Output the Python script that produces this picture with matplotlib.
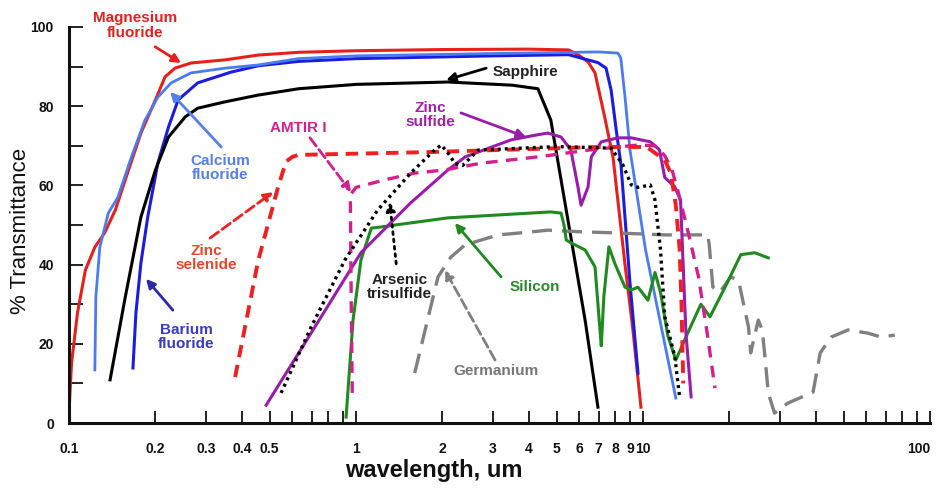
import matplotlib
matplotlib.use("Agg")
import matplotlib.pyplot as plt
from matplotlib.ticker import FixedLocator, NullFormatter

plt.rcParams['font.family'] = ['Liberation Sans', 'DejaVu Sans']
plt.rcParams['font.weight'] = 'bold'

# wavelength (um) / transmittance (%)
mgf2_wl = [0.1, 0.102, 0.107, 0.114, 0.123, 0.133, 0.145, 0.157, 0.178, 0.2, 0.216, 0.234,
           0.266, 0.35, 0.456, 0.63, 1.0, 2.0, 4.0, 5.5, 5.93, 6.43, 6.8, 7.36, 7.86, 8.65, 9.2, 9.83]
mgf2_t = [3, 15, 27.8, 38.6, 44.4, 48, 53.8, 61.4, 73.2, 81.6, 87.4, 89.6,
          90.9, 91.7, 92.9, 93.6, 94, 94.3, 94.4, 94.2, 93, 91.2, 88.4, 77, 67, 40, 24, 4]

caf2_wl = [0.123, 0.124, 0.128, 0.137, 0.148, 0.165, 0.184, 0.204, 0.227, 0.266, 0.35, 0.456,
           0.63, 1.0, 3.0, 7.0, 8.17, 8.36, 8.65, 9.0, 10.2, 13.0]
caf2_t = [13.4, 31.8, 44.4, 53, 57, 67.2, 76.5, 82.3, 85.9, 88.4, 89.6, 90.4,
          92.0, 92.7, 93.3, 93.7, 93.4, 92.2, 82.3, 69, 43.7, 6.3]

baf2_wl = [0.167, 0.171, 0.178, 0.188, 0.204, 0.222, 0.24, 0.281, 0.367, 0.456, 0.63, 1.0,
           3.0, 5.5, 6.96, 7.43, 7.74, 8.06, 8.38, 9.0, 9.6]
baf2_t = [13.9, 27.8, 40.4, 52, 65.7, 74.7, 81.6, 85.9, 88.6, 90.2, 91.3, 92.0,
          92.7, 93.0, 91.0, 89.6, 84, 74, 65, 35.4, 12.6]

sapphire_wl = [0.139, 0.157, 0.178, 0.2, 0.222, 0.254, 0.281, 0.35, 0.456, 0.63, 1.0, 2.09,
               3.5, 4.3, 4.77, 5.47, 6.28, 6.96]
sapphire_t = [10.9, 31.8, 52, 63.9, 72.2, 77.3, 79.5, 81.1, 82.8, 84.4, 85.5, 86.1,
              85.3, 84.4, 76.5, 51.3, 26, 4]

znse_wl = [0.379, 0.456, 0.535, 0.57, 0.6, 0.63, 1.78, 7.0, 10.3, 11.9, 12.5, 13.0, 13.4, 13.6, 13.8]
znse_t = [11.6, 41, 59.6, 66, 67.2, 67.7, 68.4, 69.7, 69.7, 66.4, 63, 55, 44, 31, 10]

amtir_wl = [0.97, 0.962, 0.955, 1.0, 1.26, 1.6, 2.04, 2.72, 4.3, 6.6, 9.6, 11.0, 11.9, 12.6,
            13.2, 14.3, 15.6, 16.8, 17.8]
amtir_t = [7.6, 30, 57.6, 59.5, 61.4, 63.1, 63.9, 65.6, 67.2, 69, 70.2, 70, 67.5, 64,
           58.8, 48.7, 36.9, 21.7, 8.8]

zns_wl = [0.486, 0.697, 1.04, 1.55, 2.09, 2.40, 3.47, 4.3, 4.66, 5.18, 5.6, 5.93, 6.08, 6.43,
          6.6, 7.15, 8.17, 9.1, 10.6, 11.4, 11.9, 12.9, 13.5, 13.8, 14.1, 14.7]
zns_t = [4.5, 22.7, 43, 55.6, 63.9, 67.2, 71.5, 72.8, 73.2, 72.2, 69, 59.6, 55, 59.6,
         67.2, 71, 72, 72, 71, 69, 62, 59.6, 56.3, 39.4, 22.7, 6.6]

as2s3_wl = [0.548, 0.697, 0.915, 1.19, 1.55, 1.85, 1.98, 2.1, 2.21, 2.35, 2.66, 5.0, 7.74,
            8.5, 9.1, 9.6, 10.6, 11.0, 11.5, 11.9, 12.9, 13.4]
as2s3_t = [7.6, 24.2, 41.2, 53.8, 63.1, 68.5, 70.2, 68.0, 65.5, 65, 68.9, 69.8, 69.4,
           65.2, 60.1, 59.5, 60.1, 56.3, 43.7, 26.8, 16.7, 6.6]

si_wl = [0.923, 0.976, 1.04, 1.13, 1.22, 1.37, 2.09, 4.77, 5.18, 5.3, 5.4, 5.6, 6.28, 6.8,
         7.05, 7.15, 7.3, 7.6, 8.0, 8.65, 9.1, 9.6, 10.4, 11.0, 11.5, 12.2, 13.0, 14.3,
         15.9, 17.1, 19.3, 21.9, 24.5, 27.3]
si_t = [1.5, 26, 41.2, 49.2, 49.5, 50, 51.8, 53.3, 53, 50, 46.2, 45.5, 43.7, 39.4,
        25, 19.5, 32, 44.5, 40, 34.3, 33.6, 34.3, 31, 38, 33, 22, 15.9, 22.7,
        30, 26.8, 34.3, 42.5, 43, 41.7]

ge_wl = [1.6, 1.93, 2.14, 2.40, 3.13, 4.0, 4.66, 6.0, 8.0, 11.9, 16.8, 17.0, 17.5, 18.5,
         20.2, 21.5, 23.3, 23.7, 25.2, 26.0, 26.5, 27.3, 28.7, 31.9, 39.1, 41.4, 45.2,
         51.8, 60.6, 67.5, 75.3]
ge_t = [12.6, 36.9, 41.9, 45, 47.5, 48.2, 48.7, 48.3, 48, 47.5, 47.5, 45, 34.3, 33,
        36.9, 36, 24.2, 17.7, 26, 23.5, 17.7, 7.6, 2.5, 5, 7.8, 17.7, 21.7,
        23.5, 22.7, 21.7, 22.2]

x_major = [0.1, 0.2, 0.3, 0.4, 0.5, 1, 2, 3, 4, 5, 6, 7, 8, 9, 10, 100]
x_major_labels = ['0.1', '0.2', '0.3', '0.4', '0.5', '1', '2', '3', '4', '5', '6', '7',
                  '8', '9', '10', '100']
x_minor = [0.6, 0.7, 0.8, 0.9, 20, 30, 40, 50, 60, 70, 80, 90]
y_major = [0, 20, 40, 60, 80, 100]
y_minor = [10, 30, 50, 70, 90]

fig = plt.figure(figsize=(9.38, 4.92), dpi=100)
ax = fig.add_axes([0.0736, 0.1402, 0.918, 0.805])

red = '#e8201c'
lblue = '#4a7cf0'
dblue = '#1c1ce0'
magenta = '#d4208e'
purple = '#9a1caa'
green = '#1f8a1f'
grey = '#808080'

ax.plot(mgf2_wl, mgf2_t, color=red, lw=2.2)
ax.plot(baf2_wl, baf2_t, color=dblue, lw=2.2)
ax.plot(caf2_wl, caf2_t, color=lblue, lw=2.0)
ax.plot(sapphire_wl, sapphire_t, color='black', lw=2.2)
ax.plot(ge_wl, ge_t, color=grey, lw=2.4, dashes=(6, 3))
ax.plot(si_wl, si_t, color=green, lw=2.2)
ax.plot(zns_wl, zns_t, color=purple, lw=2.2)
ax.plot(amtir_wl, amtir_t, color=magenta, lw=2.4, dashes=(3.5, 2.5))
ax.plot(znse_wl, znse_t, color='#ee2020', lw=2.8, dashes=(3.2, 2))
ax.plot(as2s3_wl, as2s3_t, color='black', lw=2.4, dashes=(0.9, 1.2))

ax.set_xscale('log')
ax.set_xlim(0.1, 100)
ax.set_ylim(0, 100)
ax.xaxis.set_major_locator(FixedLocator(x_major))
ax.xaxis.set_minor_locator(FixedLocator(x_minor))
ax.set_xticklabels(x_major_labels)
ax.xaxis.set_minor_formatter(NullFormatter())
ax.yaxis.set_major_locator(FixedLocator(y_major))
ax.yaxis.set_minor_locator(FixedLocator(y_minor))

for s in ['top', 'right']:
    ax.spines[s].set_visible(False)
for s in ['left', 'bottom']:
    ax.spines[s].set_linewidth(2.2)
    ax.spines[s].set_color('#111111')

ax.tick_params(axis='x', which='both', direction='in', length=9, width=1.3,
               pad=14, labelsize=10, colors='#111111')
ax.tick_params(axis='y', which='both', direction='in', length=10, width=1.3,
               pad=11, labelsize=10, colors='#111111')
for lab in ax.get_xticklabels() + ax.get_yticklabels():
    lab.set_fontweight('bold')
ax.get_xticklabels()[-1].set_horizontalalignment('right')

fig.text(0.462, 0.043, 'wavelength, um', fontsize=17, fontweight='bold',
         ha='center', va='center', color='#111111')
fig.text(0.022, 0.53, '% Transmittance', fontsize=16, fontweight='normal',
         ha='center', va='center', rotation=90, color='#111111')


def label(text, xy, tail, head, color, acolor=None, ls='-'):
    acolor = acolor or color
    ax.text(xy[0], xy[1], text, color=color, fontsize=11, fontweight='bold',
            ha='center', va='center', linespacing=1.05, clip_on=False)
    ax.annotate('', xy=head, xytext=tail,
                arrowprops=dict(arrowstyle='-|>', color=acolor, lw=2.0, ls=ls,
                                mutation_scale=13, shrinkA=0, shrinkB=0))


label('Magnesium\nfluoride', (0.170, 100.3), (0.1995, 95), (0.2456, 90.9), red)
label('Calcium\nfluoride', (0.336, 64.4), (0.339, 69.7), (0.225, 83.6), '#5580ea')
label('Barium\nfluoride', (0.256, 21.7), (0.230, 28.5), (0.1855, 36.4), '#3a3ac4', '#2a2aa8')
label('Zinc\nselenide', (0.300, 41.7), (0.310, 46.7), (0.514, 58.3), '#e8452c', '#ee2020', '--')
label('AMTIR I', (0.628, 74.5), (0.691, 72), (0.961, 58.3), magenta, magenta, '--')
label('Sapphire', (3.88, 88.6), (2.84, 89.6), (2.06, 86.6), '#222222', 'black')
label('Zinc\nsulfide', (1.82, 77.8), (2.32, 78.3), (3.91, 72.2), '#a020a8', purple)
label('Arsenic\ntrisulfide', (1.42, 34.3), (1.38, 40.2), (1.31, 55.8), '#222222', 'black', ':')
label('Silicon', (4.20, 34.3), (3.20, 36.9), (2.21, 50.5), '#2a8a2a', green)
label('Germanium', (3.07, 13.1), (3.05, 15.9), (2.04, 38.6), '#777777', grey, '--')

fig.savefig('out.png', dpi=100)
